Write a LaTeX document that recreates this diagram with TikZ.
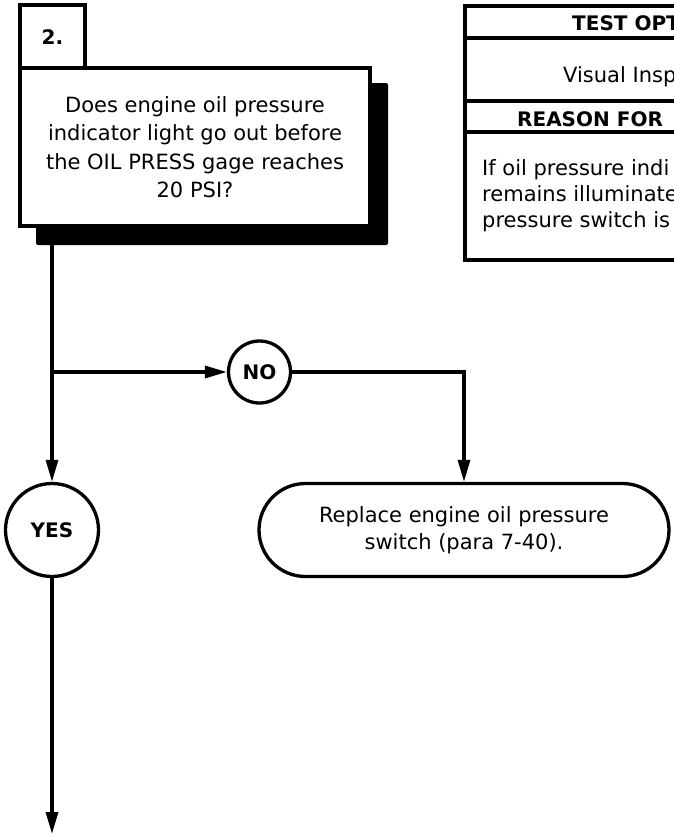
\documentclass[tikz,border=0pt]{standalone}
\usepackage{fontspec}
\setmainfont{DejaVu Sans}
\usetikzlibrary{arrows.meta,shapes.misc}
\tikzset{
 box/.style={draw, line width=3.3pt, fill=white, align=center, inner sep=0pt,
  font=\fontsize{21}{28.5}\selectfont},
 answer/.style={circle, draw, line width=3.3pt, fill=white, inner sep=0pt,
  font=\bfseries\fontsize{20}{24}\selectfont},
 action/.style={rounded rectangle, draw, line width=3.3pt, fill=white, align=center,
  inner sep=0pt, font=\fontsize{21}{27}\selectfont},
 flow/.style={line width=3.3pt, -{Triangle[length=22pt,width=12pt]}},
 rule/.style={line width=3.3pt},
}
\begin{document}
\begin{tikzpicture}[x=1pt, y=-1pt]
 \useasboundingbox (0,0) rectangle (674,836);
 \fill[rounded corners=2pt] (36,83) rectangle (388,245);
 \node[box, font=\bfseries\fontsize{20}{24}\selectfont, minimum width=65pt, minimum height=65pt] (step2) at (52.5,37.5) {2.};
 \node[box, minimum width=350pt, minimum height=158pt] (question) at (195,147)
  {Does engine oil pressure\\indicator light go out before\\the OIL PRESS gage reaches\\20 PSI?};
 \begin{scope}
  \clip (0,0) rectangle (674,836);
  \draw[rule, fill=white] (465,6) rectangle (900,260);
  \draw[rule] (465,38) -- (900,38);
  \draw[line width=4.5pt] (465,101) -- (900,101);
  \draw[rule] (465,132) -- (900,132);
  \node[anchor=base west, inner sep=0pt, font=\bfseries\fontsize{20}{24}\selectfont] (testhead) at (572,30) {TEST OPT};
  \node[anchor=base west, inner sep=0pt, font=\fontsize{21}{27}\selectfont] (testtext) at (563,82) {Visual Insp};
  \node[anchor=base west, inner sep=0pt, font=\bfseries\fontsize{20}{24}\selectfont] (reasonhead) at (517,126) {REASON FOR};
  \node[anchor=base west, inner sep=0pt, font=\fontsize{21}{26}\selectfont] (reason1) at (482,175) {If oil pressure indi};
  \node[anchor=base west, inner sep=0pt, font=\fontsize{21}{26}\selectfont] (reason2) at (482,201) {remains illuminate};
  \node[anchor=base west, inner sep=0pt, font=\fontsize{21}{26}\selectfont] (reason3) at (482,227) {pressure switch is};
 \end{scope}
 \node[answer, minimum size=62pt] (no) at (259.5,372) {NO};
 \node[answer, minimum size=93pt] (yes) at (52,530) {YES};
 \node[action, minimum width=410pt, minimum height=93pt] (replace) at (464,530)
  {Replace engine oil pressure\\switch (para 7-40).};
 \coordinate (split) at (52,372);
 \coordinate (bend) at (464,372);
 \coordinate (exit) at (52,834);
 \draw[rule] (question.south -| split) -- (split);
 \draw[flow] (split) -- (no);
 \draw[flow] (split) -- (yes);
 \draw[flow] (no) -- (bend) -- (bend |- replace.north);
 \draw[flow] (yes) -- (exit);
\end{tikzpicture}
\end{document}
